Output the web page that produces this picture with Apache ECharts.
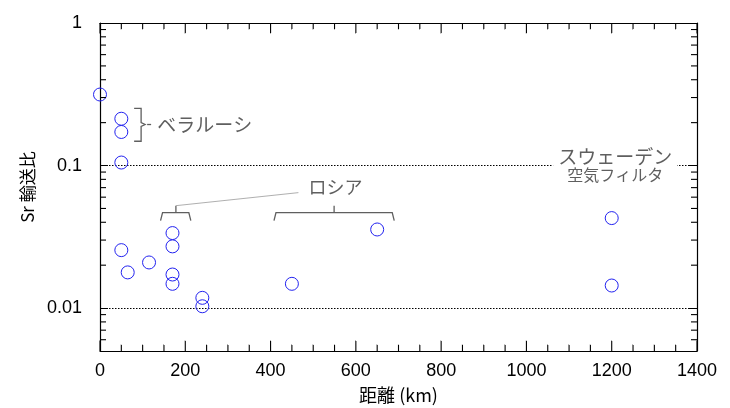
<!DOCTYPE html>
<html>
<head>
<meta charset="utf-8">
<script src="https://cdn.jsdelivr.net/npm/echarts@6/dist/echarts.min.js"></script>
<style>
  html, body { margin: 0; padding: 0; background: #fff; }
  #chart { width: 730px; height: 408px; }
</style>
</head>
<body>
<div id="chart"></div>
<script>
// data: distance (km) vs Sr transfer ratio
var distKm = [0, 50, 50, 50, 50, 65, 115, 170, 170, 170, 170, 240, 240, 450, 650, 1200, 1200];
var srRatio = [0.315, 0.213, 0.172, 0.105, 0.0255, 0.0178, 0.0209, 0.0336, 0.0271, 0.0172, 0.0148, 0.0118, 0.0103, 0.0148, 0.0356, 0.0428, 0.0144];

var xTicks = [0, 200, 400, 600, 800, 1000, 1200, 1400];
var xMinor = [50, 100, 150, 250, 300, 350, 450, 500, 550, 650, 700, 750, 850, 900, 950,
              1050, 1100, 1150, 1250, 1300, 1350];
var yTickValues = [0.01, 0.1, 1];
var yTickLabels = ['0.01', '0.1', '1'];
var yMinor = [0.006, 0.007, 0.008, 0.009, 0.02, 0.03, 0.04, 0.05, 0.06, 0.07, 0.08, 0.09,
              0.2, 0.3, 0.4, 0.5, 0.6, 0.7, 0.8, 0.9];

var xMin = 0, xMax = 1400, yMin = 0.005, yMax = 1;

var fontLat = "'Liberation Sans', Arial, sans-serif";
var fontJp = "'Noto Sans CJK JP', sans-serif";
var gray = '#5f5f5f';
var blue = '#2323f0';

var chart = echarts.init(document.getElementById('chart'), null, { renderer: 'canvas' });

function yLabel(v) {
    for (var i = 0; i < yTickValues.length; i++) {
        if (Math.abs(Math.log10(v) - Math.log10(yTickValues[i])) < 1e-6) return yTickLabels[i];
    }
    return '';
}

function line(p, q, w, c) {
    return { type: 'line', shape: { x1: p[0], y1: p[1], x2: q[0], y2: q[1] },
             style: { stroke: c || gray, lineWidth: w || 1.3 } };
}

function poly(pts, w, c) {
    return { type: 'polyline', shape: { points: pts },
             style: { stroke: c || gray, lineWidth: w || 1.3, fill: null } };
}

// bracket laid flat, opening downward
function hBracket(api, x0, x1, xm, y) {
    var a = api.coord([x0, y]), b = api.coord([x1, y]), m = api.coord([xm, y]);
    return [
        poly([[a[0], a[1] + 8], [a[0] + 2, a[1]], [b[0] - 2, b[1]], [b[0], b[1] + 8]]),
        line([m[0], m[1]], [m[0], m[1] - 7])
    ];
}

// all frame ticks in one group, positions from the axes' own scales
function renderFrame(params, api) {
    var kids = [];
    yMinor.forEach(function (v) {
        var l = api.coord([xMin, v]), r = api.coord([xMax, v]);
        kids.push(line([l[0], l[1]], [l[0] + 6, l[1]], 1.1, '#000'));
        kids.push(line([r[0], r[1]], [r[0] - 6, r[1]], 1.1, '#000'));
    });
    xTicks.concat(xMinor).forEach(function (v) {
        var len = xTicks.indexOf(v) >= 0 ? 10 : 6;
        var b = api.coord([v, yMin]), t = api.coord([v, yMax]);
        kids.push(poly([[b[0], b[1]], [b[0], b[1] - len], [b[0] + 0.01, b[1] - len]], 1.1, '#000'));
        kids.push(poly([[t[0], t[1]], [t[0], t[1] + len], [t[0] + 0.01, t[1] + len]], 1.1, '#000'));
    });
    return { type: 'group', children: kids };
}

function renderAnnot(params, api) {
    var kids = [];
    // Belarus brace
    var t = api.coord([80, 0.252]), bt = api.coord([80, 0.148]), bm = api.coord([80, 0.194]);
    var bx = t[0] + 7;
    kids.push(poly([[t[0], t[1]], [bx, t[1]], [bx, bm[1] - 2], [bx + 4, bm[1]], [bx, bm[1] + 2], [bx, bt[1]], [t[0], bt[1]]]));
    kids.push(line([bx + 6, bm[1]], [bx + 10, bm[1]]));
    var tl = api.coord([134, 0.194]);
    kids.push({ type: 'text', style: { text: 'ベラルーシ', x: tl[0], y: tl[1], font: '19px ' + fontJp,
        fill: gray, align: 'left', verticalAlign: 'middle' } });

    // Russia brackets
    kids = kids.concat(hBracket(api, 142, 213, 178, 0.0467));
    kids = kids.concat(hBracket(api, 408, 690, 549, 0.0467));
    var lp = api.coord([178, 0.0467]);
    var rl = api.coord([470, 0.07]);
    kids.push(line([lp[0], lp[1] - 7], [rl[0] - 2, rl[1] + 5], 0.8, '#9a9a9a'));
    var rt = api.coord([552, 0.0703]);
    kids.push({ type: 'text', style: { text: 'ロシア', x: rt[0], y: rt[1], font: '18px ' + fontJp,
        fill: gray, align: 'center', verticalAlign: 'middle' } });

    // Sweden air filter label sits on the 0.1 line
    var sw = api.coord([1208, 0.1]);
    kids.push({ type: 'rect', shape: { x: sw[0] - 62, y: sw[1] - 3, width: 124, height: 6 }, style: { fill: '#fff' } });
    kids.push({ type: 'text', style: { text: 'スウェーデン', x: sw[0], y: sw[1] - 9, font: '19px ' + fontJp,
        fill: gray, align: 'center', verticalAlign: 'middle' } });
    kids.push({ type: 'text', style: { text: '空気フィルタ', x: sw[0], y: sw[1] + 9, font: '16px ' + fontJp,
        fill: gray, align: 'center', verticalAlign: 'middle' } });
    return { type: 'group', children: kids };
}

var option = {
    animation: false,
    backgroundColor: '#fff',
    grid: { left: 100, right: 33, top: 23, bottom: 57, outerBoundsMode: 'none' },
    xAxis: [
        {
            type: 'value', min: xMin, max: xMax, interval: 200, position: 'bottom',
            name: '距離 (km)', nameLocation: 'middle', nameGap: 35,
            nameTextStyle: { fontSize: 18, color: '#000', fontFamily: fontJp },
            axisLine: { show: true, onZero: false, lineStyle: { color: '#000', width: 1.2 } },
            axisTick: { show: false },
            axisLabel: { fontSize: 18, color: '#000', fontFamily: fontLat, margin: 11,
                formatter: function (v) { return xTicks.indexOf(v) >= 0 ? String(v) : ''; } },
            splitLine: { show: false }
        },
        {
            type: 'value', min: xMin, max: xMax, interval: 200, position: 'top',
            axisLine: { show: true, onZero: false, lineStyle: { color: '#000', width: 1.2 } },
            axisTick: { show: false },
            axisLabel: { show: false },
            splitLine: { show: false }
        }
    ],
    yAxis: [
        {
            type: 'log', logBase: 10, min: yMin, max: yMax, position: 'left',
            name: 'Sr 輸送比', nameLocation: 'middle', nameGap: 62, nameRotate: 90,
            nameTextStyle: { fontSize: 17, color: '#000', fontFamily: fontJp },
            axisLine: { show: true, onZero: false, lineStyle: { color: '#000', width: 1.2 } },
            axisTick: { show: true, inside: true, length: 8, lineStyle: { color: '#000' } },
            axisLabel: { fontSize: 18, color: '#000', fontFamily: fontLat, margin: 18, formatter: yLabel },
            splitLine: { show: true, lineStyle: { color: '#000', width: 1, type: [1.5, 1.5] } }
        },
        {
            type: 'log', logBase: 10, min: yMin, max: yMax, position: 'right',
            axisLine: { show: true, onZero: false, lineStyle: { color: '#000', width: 1.2 } },
            axisTick: { show: true, inside: true, length: 8, lineStyle: { color: '#000' } },
            axisLabel: { show: false },
            splitLine: { show: false }
        }
    ],
    series: [
        {
            type: 'custom', name: 'frame', silent: true, z: 10,
            renderItem: renderFrame,
            data: [[700, 0.1]]
        },
        {
            type: 'custom', name: 'annot', silent: true, z: 3,
            renderItem: renderAnnot,
            data: [[700, 0.1]]
        },
        {
            type: 'scatter', name: 'Sr', z: 5,
            symbol: 'circle', symbolSize: 13,
            itemStyle: { color: 'rgba(0,0,0,0)', borderColor: blue, borderWidth: 1, opacity: 1 },
            data: distKm.map(function (d, i) { return [d, srRatio[i]]; })
        }
    ]
};

chart.setOption(option);
</script>
</body>
</html>
